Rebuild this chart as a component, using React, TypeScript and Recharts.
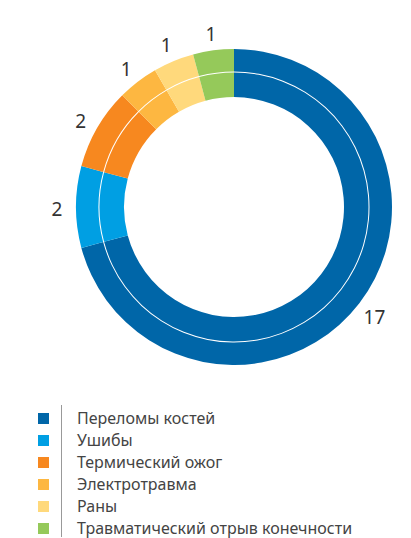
import React from 'react';
import { PieChart, Pie, Cell } from 'recharts';

const categories = [
  'Переломы костей',
  'Ушибы',
  'Термический ожог',
  'Электротравма',
  'Раны',
  'Травматический отрыв конечности',
];
const values = [17, 2, 2, 1, 1, 1];
const colors = ['#0066a8', '#009fe3', '#f7881f', '#fdb741', '#ffd97c', '#95c95a'];

const data = categories.map((name, i) => ({ name, value: values[i] }));

const CX = 234;
const CY = 207;
const RAD = Math.PI / 180;

const renderLabel = (props: any) => {
  const { midAngle, value } = props;
  const r = 177;
  const x = CX + r * Math.cos(-midAngle * RAD);
  const y = CY + 2 + r * Math.sin(-midAngle * RAD);
  return (
    <text
      x={x}
      y={y}
      fill="#333"
      fontSize={19}
      fontFamily="'Noto Sans', sans-serif"
      textAnchor="middle"
      dominantBaseline="central"
    >
      {value}
    </text>
  );
};

export default function App() {
  return (
    <div style={{ position: 'absolute', left: 0, top: 0, width: 411, height: 538, background: '#fff' }}>
      <PieChart width={411} height={395} margin={{ top: 0, right: 0, bottom: 0, left: 0 }}>
        <Pie
          data={data}
          dataKey="value"
          cx={CX}
          cy={CY}
          innerRadius={110}
          outerRadius={134.5}
          startAngle={90}
          endAngle={-270}
          stroke="none"
          isAnimationActive={false}
        >
          {data.map((d, i) => (
            <Cell key={d.name} fill={colors[i]} />
          ))}
        </Pie>
        <Pie
          data={data}
          dataKey="value"
          cx={CX}
          cy={CY}
          innerRadius={135.5}
          outerRadius={158}
          startAngle={90}
          endAngle={-270}
          stroke="none"
          label={renderLabel}
          labelLine={false}
          isAnimationActive={false}
        >
          {data.map((d, i) => (
            <Cell key={d.name} fill={colors[i]} />
          ))}
        </Pie>
      </PieChart>
      <div
        style={{
          position: 'absolute',
          left: 61,
          top: 405,
          width: 1,
          height: 132,
          background: '#999',
        }}
      />
      {categories.map((name, i) => (
        <div
          key={name}
          style={{
            position: 'absolute',
            left: 0,
            top: 407 + i * 22,
            height: 22,
            display: 'flex',
            alignItems: 'center',
            fontFamily: "'Noto Sans', sans-serif",
            fontSize: 16,
            color: '#444',
            whiteSpace: 'nowrap',
          }}
        >
          <span style={{ display: 'inline-block', marginLeft: 38, width: 11, height: 11, background: colors[i] }} />
          <span style={{ marginLeft: 28 }}>{name}</span>
        </div>
      ))}
    </div>
  );
}
